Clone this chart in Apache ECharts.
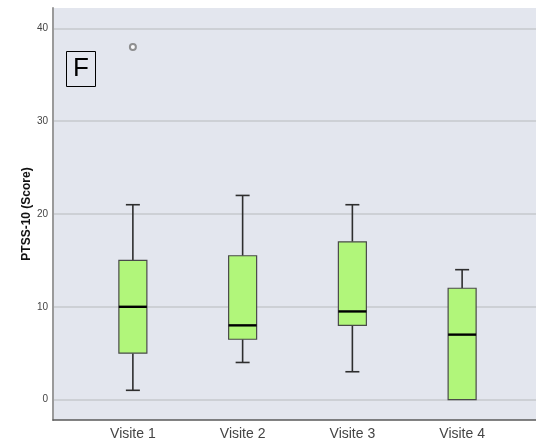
<!DOCTYPE html>
<html>
<head>
<meta charset="utf-8">
<script src="https://cdn.jsdelivr.net/npm/echarts@6/dist/echarts.min.js"></script>
<style>
  html, body { margin: 0; padding: 0; background: #fff; }
  #chart { width: 536px; height: 443px; }
</style>
</head>
<body>
<div id="chart"></div>
<script>
// PTSS-10 scores per visit (box-and-whisker summary)
const visits = ['Visite 1', 'Visite 2', 'Visite 3', 'Visite 4'];
const whiskerLow = [1, 4, 3, 0];
const q1 = [5, 6.5, 8, 0];
const median = [10, 8, 9.5, 7];
const q3 = [15, 15.5, 17, 12];
const whiskerHigh = [21, 22, 21, 14];
const outliers = [['Visite 1', 38]];
const yTicks = [0, 10, 20, 30, 40];
const yName = 'PTSS-10 (Score)';
const panelLabel = 'F';

const FONT = 'Liberation Sans, Arial, sans-serif';
const Y_MIN = -2.2, Y_MAX = 42.2;
const BOX_W = 28;     // box width in px
const CAP_W = 14;     // whisker cap width in px

const boxData = visits.map((v, i) => [v, whiskerLow[i], q1[i], median[i], q3[i], whiskerHigh[i]]);

// draws one box: whiskers with caps, the IQR box and the median bar
function renderBox(params, api) {
  const cat = api.value(0);
  const pMin = api.coord([cat, api.value(1)]);
  const pQ1 = api.coord([cat, api.value(2)]);
  const pMed = api.coord([cat, api.value(3)]);
  const pQ3 = api.coord([cat, api.value(4)]);
  const pMax = api.coord([cat, api.value(5)]);
  const x = pMed[0];
  const whisker = { stroke: '#2e2e2e', lineWidth: 1.6 };
  const children = [];
  if (pQ1[1] !== pMin[1]) {
    children.push({ type: 'line', shape: { x1: x, y1: pQ1[1], x2: x, y2: pMin[1] }, style: whisker });
    children.push({ type: 'line', shape: { x1: x - CAP_W / 2, y1: pMin[1], x2: x + CAP_W / 2, y2: pMin[1] }, style: whisker });
  }
  if (pQ3[1] !== pMax[1]) {
    children.push({ type: 'line', shape: { x1: x, y1: pQ3[1], x2: x, y2: pMax[1] }, style: whisker });
    children.push({ type: 'line', shape: { x1: x - CAP_W / 2, y1: pMax[1], x2: x + CAP_W / 2, y2: pMax[1] }, style: whisker });
  }
  children.push({
    type: 'rect',
    shape: { x: x - BOX_W / 2, y: pQ3[1], width: BOX_W, height: pQ1[1] - pQ3[1] },
    style: { fill: '#b1f67a', stroke: '#4a4a4a', lineWidth: 1.2 }
  });
  children.push({
    type: 'line',
    shape: { x1: x - BOX_W / 2, y1: pMed[1], x2: x + BOX_W / 2, y2: pMed[1] },
    style: { stroke: '#000', lineWidth: 2.4 }
  });
  return { type: 'group', children: children };
}

const chart = echarts.init(document.getElementById('chart'), null, { renderer: 'canvas' });

chart.setOption({
  backgroundColor: '#ffffff',
  animation: false,
  title: {
    text: panelLabel,
    left: 66,
    top: 51,
    padding: [5, 7],
    borderColor: '#000',
    borderWidth: 1,
    textStyle: { fontFamily: FONT, fontSize: 26, fontWeight: 'normal', color: '#000', lineHeight: 26 }
  },
  grid: [
    // full plotting panel: background, gridlines, axis lines
    { left: 53, right: 0, top: 8, bottom: 23, show: true, backgroundColor: '#e3e6ee', borderWidth: 0 },
    // band layout for the four visits
    { left: 78, right: 19, top: 8, bottom: 23 }
  ],
  xAxis: [
    {
      gridIndex: 0, type: 'value', min: 0, max: 1,
      axisLine: { show: true, onZero: false, lineStyle: { color: '#5a5a5a', width: 1.5 } },
      axisTick: { show: false }, axisLabel: { show: false }, splitLine: { show: false }
    },
    {
      gridIndex: 1, type: 'category', data: visits, boundaryGap: true,
      axisLine: { show: false }, axisTick: { show: false },
      axisLabel: { fontFamily: FONT, fontSize: 14, color: '#444', margin: 7 }
    }
  ],
  yAxis: [
    {
      gridIndex: 0, type: 'value', min: Y_MIN, max: Y_MAX,
      name: yName, nameLocation: 'middle', nameGap: 20, nameMoveOverlap: false,
      nameTextStyle: { fontFamily: FONT, fontSize: 12, fontWeight: 'bold', color: '#111' },
      axisLine: { show: true, lineStyle: { color: '#9a9a9a', width: 2 } },
      axisTick: { show: false, customValues: yTicks },
      axisLabel: { customValues: yTicks, fontFamily: FONT, fontSize: 10, color: '#444', margin: 5 },
      splitLine: { show: true, lineStyle: { color: '#c6c8cc', width: 1.5 } }
    },
    {
      gridIndex: 1, type: 'value', min: Y_MIN, max: Y_MAX, show: false,
      splitLine: { show: false }
    }
  ],
  series: [
    {
      type: 'custom',
      xAxisIndex: 1, yAxisIndex: 1,
      data: boxData,
      renderItem: renderBox,
      z: 4
    },
    {
      type: 'scatter',
      xAxisIndex: 1, yAxisIndex: 1,
      data: outliers,
      symbol: 'emptyCircle',
      symbolSize: 6,
      itemStyle: { color: '#777', borderColor: '#777', borderWidth: 1 },
      z: 6
    }
  ]
});
</script>
</body>
</html>
